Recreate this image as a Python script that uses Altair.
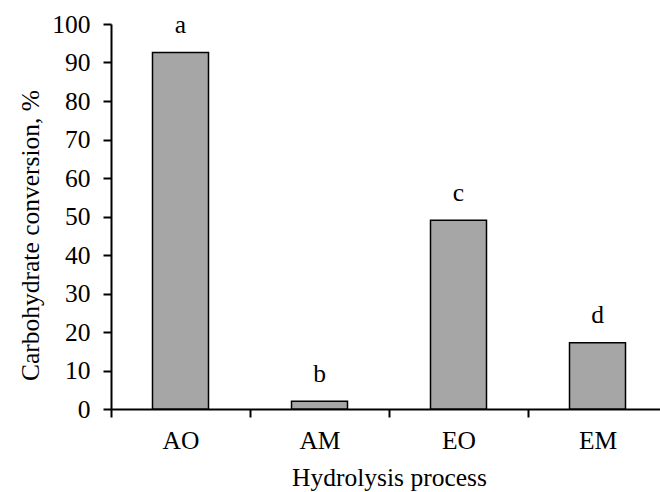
import altair as alt
import pandas as pd

processes = ["AO", "AM", "EO", "EM"]
conversion = [92.6, 2.0, 49.0, 17.2]
letters = ["a", "b", "c", "d"]
y_ticks = [0, 10, 20, 30, 40, 50, 60, 70, 80, 90, 100]

df = pd.DataFrame({"process": processes, "conversion": conversion, "letter": letters})

FONT = "Liberation Serif"
FS = 25.5

x_enc = alt.X("process:N", sort=processes,
              scale=alt.Scale(paddingInner=0, paddingOuter=0, range=[0, 556]),
              axis=alt.Axis(title="Hydrolysis process", labelAngle=0, tickBand="extent",
                            tickSize=8, labelPadding=11, titlePadding=12))
y_enc = alt.Y("conversion:Q", scale=alt.Scale(domain=[0, 100], nice=False, zero=True),
              axis=alt.Axis(title="Carbohydrate conversion, %", tickCount=10,
                            tickSize=8, labelPadding=13, titlePadding=8, grid=False,
                            labelOverlap=False, titleY=211))

bars = alt.Chart(df).mark_bar(size=56, color="#a6a6a6", stroke="black", strokeWidth=1.5).encode(
    x=x_enc, y=y_enc)

labels = alt.Chart(df).mark_text(font=FONT, fontSize=FS, color="black", dy=-19.5,
                                 baseline="alphabetic").encode(
    x=x_enc, y=y_enc, text="letter:N")

chart = (bars + labels).properties(
    width=549, height=385,
    autosize=alt.AutoSizeParams(type="none"),
    padding={"left": 111, "top": 24, "right": 0, "bottom": 83},
).configure_view(stroke=None).configure_axis(
    labelFont=FONT, titleFont=FONT, labelFontSize=FS, titleFontSize=FS,
    labelColor="black", titleColor="black", titleFontWeight="normal",
    domainColor="black", tickColor="black", domainWidth=2, tickWidth=2,
).configure_axisY(values=y_ticks, tickCount=10, labelOverlap=False)

chart.save("out.html", embed_options={"renderer": "svg", "actions": False})
